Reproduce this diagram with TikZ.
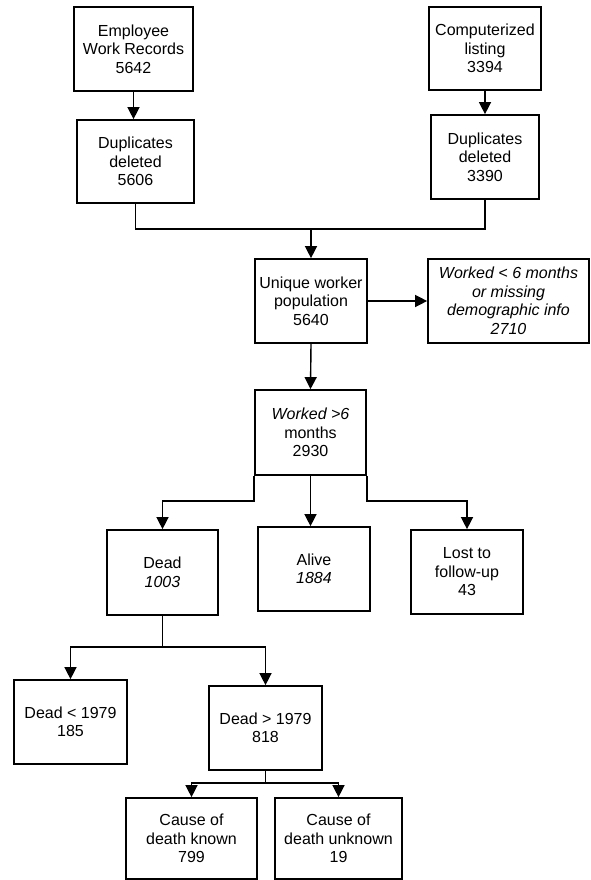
\documentclass[tikz,border=0pt]{standalone}
\usepackage{fontspec}
\setmainfont{Liberation Sans}
\usetikzlibrary{arrows.meta}
\tikzset{
  box/.style={draw, line width=1.7pt, align=center, inner sep=0pt,
    font=\fontsize{16}{18.5}\selectfont},
  conn/.style={line width=1.4pt},
  arr/.style={conn, -{Triangle[width=12pt,length=12pt]}}
}
\begin{document}
\begin{tikzpicture}[x=1pt,y=-1pt]
\useasboundingbox (0,0) rectangle (590,880);
\node[box, minimum width=119pt, minimum height=84pt] (A) at (133.5,49) {Employee\\Work Records\\5642};
\node[box, minimum width=117pt, minimum height=83pt] (B) at (135.5,161.5) {Duplicates\\deleted\\5606};
\node[box, minimum width=112pt, minimum height=83pt] (C) at (485,48.5) {Computerized\\listing\\3394};
\node[box, minimum width=108pt, minimum height=84pt] (D) at (485,157) {Duplicates\\deleted\\3390};
\node[box, minimum width=112pt, minimum height=84pt] (E) at (311,301) {Unique worker\\population\\5640};
\node[box, minimum width=161pt, minimum height=84pt, font=\fontsize{16}{18.5}\selectfont\itshape] (F) at (508.5,301) {Worked < 6 months\\or missing\\demographic info\\2710};
\node[box, minimum width=111pt, minimum height=85pt] (G) at (310.5,432.5) {\textit{Worked >6}\\months\\2930};
\node[box, minimum width=111pt, minimum height=85pt] (H) at (162.5,572.5) {Dead\\\textit{1003}};
\node[box, minimum width=112pt, minimum height=84pt] (I) at (314,569) {Alive\\\textit{1884}};
\node[box, minimum width=112pt, minimum height=84pt] (J) at (467,572) {Lost to\\follow-up\\43};
\node[box, minimum width=113pt, minimum height=84pt] (K) at (70.5,722) {Dead < 1979\\185};
\node[box, minimum width=113pt, minimum height=84pt] (L) at (265.5,728) {Dead > 1979\\818};
\node[box, minimum width=131pt, minimum height=81pt] (M) at (191.5,838.5) {Cause of\\death known\\799};
\node[box, minimum width=127pt, minimum height=81pt] (N) at (338.5,838.5) {Cause of\\death unknown\\19};

\coordinate (j1) at (311,229);
\coordinate (j2) at (311,501);
\coordinate (j3) at (162.5,647);
\coordinate (j4) at (265.5,783);

\draw[arr] (A.south) -- (A.south |- B.north);
\draw[arr] (C.south) -- (D.north);
\draw[conn] (B.south) |- (j1) -| (D.south);
\draw[arr] (j1) -- (E.north);
\draw[arr] (E.east) -- (F.west);
\draw[arr] (E.south) -- (G.north);
\draw[arr] (G.south west) -- (G.south west |- j2) -| (H.north);
\draw[arr] (G.south) -- (G.south |- I.north);
\draw[arr] (G.south east) -- (G.south east |- j2) -| (J.north);
\draw[conn] (H.south) -- (j3);
\draw[arr] (j3) -| (K.north);
\draw[arr] (j3) -| (L.north);
\draw[conn] (L.south) -- (j4);
\draw[arr] (j4) -| (M.north);
\draw[arr] (j4) -| (N.north);
\end{tikzpicture}
\end{document}
